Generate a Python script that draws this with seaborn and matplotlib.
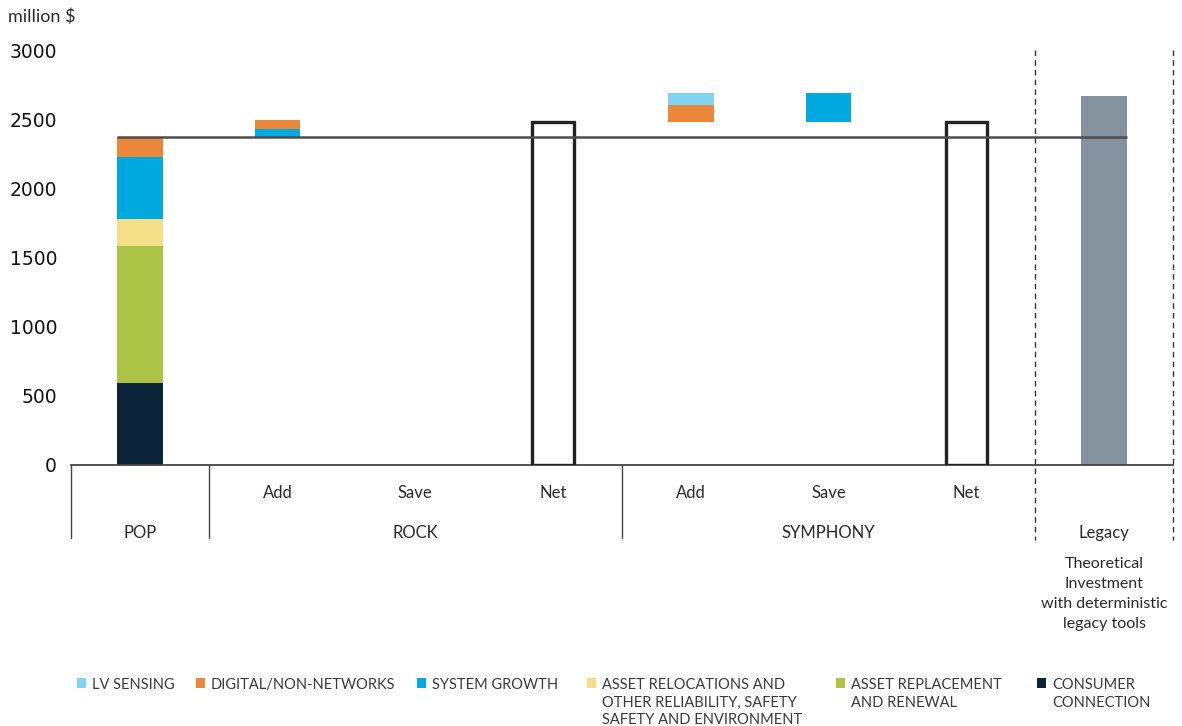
import matplotlib
matplotlib.use("Agg")
import matplotlib.pyplot as plt
import matplotlib.transforms as mtransforms
from matplotlib.patches import Rectangle
import pandas as pd
import seaborn as sns

# ---------------------------------------------------------------- data
steps = ["POP", "ROCK Add", "ROCK Save", "ROCK Net",
         "SYMPHONY Add", "SYMPHONY Save", "SYMPHONY Net", "Legacy"]
step_labels = ["", "Add", "Save", "Net", "Add", "Save", "Net", ""]
groups = ["POP", "ROCK", "SYMPHONY", "Legacy"]

component_keys = ["lv", "digital", "growth", "reloc", "replace", "consumer"]
component_names = ["LV SENSING", "DIGITAL/NON-NETWORKS", "SYSTEM GROWTH",
                   "ASSET RELOCATIONS AND\nOTHER RELIABILITY, SAFETY\nSAFETY AND ENVIRONMENT",
                   "ASSET REPLACEMENT\nAND RENEWAL", "CONSUMER\nCONNECTION"]
component_colors = ["#80d4f1", "#ea873a", "#00a9e0", "#f4df86", "#adc345", "#0b2439"]

# POP stack, bottom to top (million $)
pop_components = ["consumer", "replace", "reloc", "growth", "digital"]
pop_values = [593, 992, 193, 449, 144]

# ROCK changes
rock_add_components = ["growth", "digital"]
rock_add_values = [58, 65]
rock_save_components = []
rock_save_values = []
rock_net = 2482

# SYMPHONY changes
sym_add_components = ["digital", "lv"]
sym_add_values = [120, 87]
sym_save_components = ["growth"]
sym_save_values = [207]
sym_net = 2482

legacy_total = 2667

# ------------------------------------------------- waterfall segments
rows = []
level = 0
for c, v in zip(pop_components, pop_values):
    rows.append(("POP", c, v, level)); level += v
pop_total = level
for c, v in zip(rock_add_components, rock_add_values):
    rows.append(("ROCK Add", c, v, level)); level += v
for c, v in zip(rock_save_components, rock_save_values):
    level -= v; rows.append(("ROCK Save", c, v, level))
level = rock_net
for c, v in zip(sym_add_components, sym_add_values):
    rows.append(("SYMPHONY Add", c, v, level)); level += v
for c, v in zip(sym_save_components, sym_save_values):
    level -= v; rows.append(("SYMPHONY Save", c, v, level))
seg = pd.DataFrame(rows, columns=["step", "component", "height", "base"])
seg["pos"] = seg["step"].map(steps.index)

# ---------------------------------------------------------------- style
sns.set_style("white")
plt.rcParams["font.family"] = ["Lato", "DejaVu Sans"]
text_color = "#2a2a2a"

fig = plt.figure(figsize=(11.82, 7.26), dpi=100)
W, H = 1182, 726
ax = fig.add_axes([71 / W, 1 - 465 / H, (1173 - 71) / W, (465 - 50) / H])

bar_w = 0.33
for key, color in zip(component_keys, component_colors):
    sub = seg[seg["component"] == key].sort_values("pos")
    if sub.empty:
        continue
    sns.barplot(data=sub, x="step", y="height", order=steps,
                bottom=sub["base"].to_numpy(), color=color, saturation=1,
                width=bar_w, errorbar=None, linewidth=0, ax=ax, zorder=2)

# Legacy total
sns.barplot(x=["Legacy"], y=[legacy_total], order=steps, color="#84939d",
            saturation=1, width=bar_w, errorbar=None, linewidth=0, ax=ax, zorder=2)

# Net totals as outlined boxes
sns.barplot(x=["ROCK Net", "SYMPHONY Net"], y=[rock_net, sym_net], order=steps,
            fill=False, color="#222222", width=0.30, errorbar=None,
            linewidth=2.4, ax=ax, zorder=3)

# reference line at the POP total
ax.hlines(pop_total, 0 - bar_w / 2, len(steps) - 1 + bar_w / 2,
          color="#4d4d4d", linewidth=1.8, zorder=5)

# axes
ax.set_xlim(-0.5, len(steps) - 0.5)
ax.set_ylim(0, 3000)
ax.set_yticks(range(0, 3001, 500))
ax.set_xticks([])
ax.set_xlabel("")
ax.set_ylabel("")
for s in ["left", "top", "right"]:
    ax.spines[s].set_visible(False)
ax.spines["bottom"].set_color("#444444")
ax.spines["bottom"].set_linewidth(1.3)
ax.tick_params(axis="y", direction="in", length=10, width=1.1, color="#333333",
               pad=10, labelsize=13.5, labelcolor="#111111")
for lab in ax.get_yticklabels():
    lab.set_fontfamily("DejaVu Sans")

fig.text(8 / W, 1 - 17 / H, "million $", fontsize=13, color=text_color,
         ha="left", va="center")

# category axis below the plot
trans = mtransforms.blended_transform_factory(ax.transData, ax.transAxes)
for i, lab in enumerate(step_labels):
    if lab:
        ax.text(i, -0.067, lab, transform=trans, ha="center", va="center",
                fontsize=12, color=text_color)
group_pos = [0, 2, 5, 7]
for g, p in zip(groups, group_pos):
    ax.text(p, -0.163, g, transform=trans, ha="center", va="center",
            fontsize=12, color=text_color)
ax.text(7, -0.221, "Theoretical\nInvestment\nwith deterministic\nlegacy tools",
        transform=trans, ha="center", va="top", fontsize=11.5,
        color=text_color, linespacing=1.56)

for xb in [-0.5, 0.5, 3.5]:
    ax.plot([xb, xb], [0, -0.176], transform=trans, clip_on=False,
            color="#444444", linewidth=1.0)
for xb in [6.5, 7.5]:
    ax.plot([xb, xb], [1.0, -0.18], transform=trans, clip_on=False,
            color="#333333", linewidth=1.0, dashes=(4, 3))

# legend
legend_x = [77, 196, 417, 587, 836, 1037]
for x0, name, color in zip(legend_x, component_names, component_colors):
    fig.patches.append(Rectangle((x0 / W, 1 - 688 / H), 9 / W, 10 / H,
                                 transform=fig.transFigure, facecolor=color,
                                 edgecolor="none"))
    fig.text((x0 + 15) / W, 1 - 678 / H, name, fontsize=10.5, color="#3a3a3a",
             ha="left", va="top", linespacing=1.32)

fig.savefig("out.png", dpi=100)
